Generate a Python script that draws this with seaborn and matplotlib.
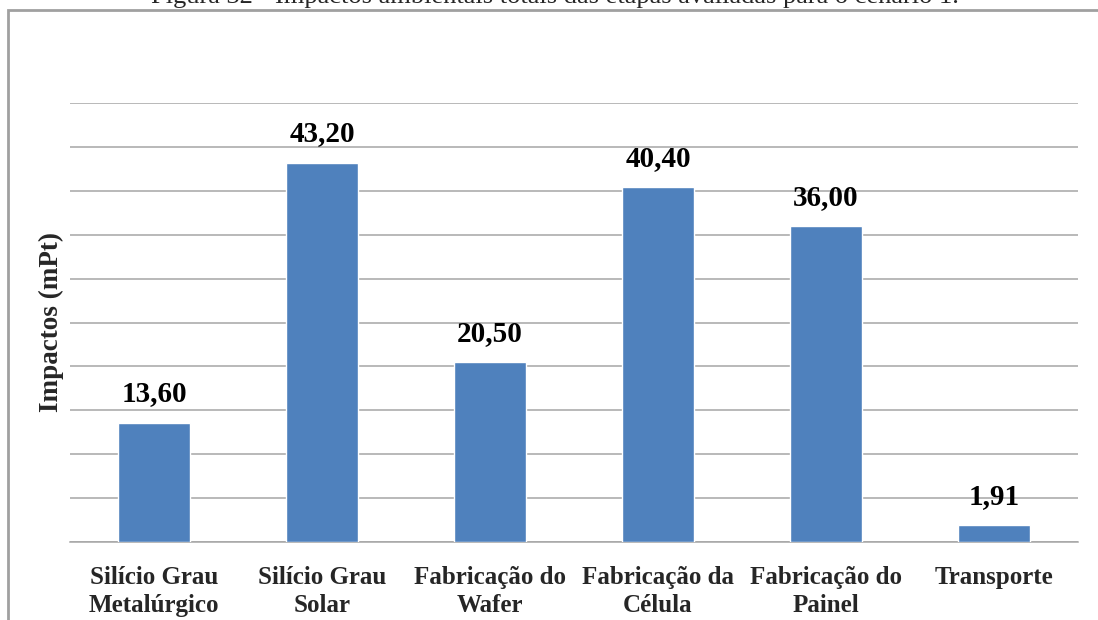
import matplotlib
matplotlib.use('Agg')
import matplotlib.pyplot as plt
import seaborn as sns
import pandas as pd
from matplotlib.ticker import FixedLocator, MultipleLocator
from matplotlib.patches import Rectangle

# dados
etapas = ['Silício Grau\nMetalúrgico', 'Silício Grau\nSolar', 'Fabricação do\nWafer',
          'Fabricação da\nCélula', 'Fabricação do\nPainel', 'Transporte']
impactos = [13.60, 43.20, 20.50, 40.40, 36.00, 1.91]

df = pd.DataFrame({'Etapa': etapas, 'Impacto': impactos})

sns.set_theme(style='white')
plt.rcParams['font.family'] = ['Liberation Serif', 'DejaVu Serif']

fig = plt.figure(figsize=(10.98, 6.2), dpi=100)
ax = fig.add_axes([70 / 1098, 1 - 542 / 620, 1008 / 1098, 439 / 620])

sns.barplot(data=df, x='Etapa', y='Impacto', color='#4F81BD', saturation=1,
            width=0.43, ax=ax, zorder=3)

ax.set_ylim(0, 50)
ax.set_xlim(-0.5, 5.5)
ax.yaxis.set_major_locator(MultipleLocator(5))
ax.grid(axis='y', color='#A6A6A6', linewidth=1.1, zorder=0)
ax.set_axisbelow(True)
ax.tick_params(axis='y', left=False, labelleft=False)

# ticks entre as categorias
ax.xaxis.set_minor_locator(FixedLocator([i - 0.5 for i in range(len(etapas) + 1)]))
ax.tick_params(axis='x', which='major', length=0, pad=17)
ax.tick_params(axis='x', which='minor', length=6, width=1, color='#A6A6A6', direction='out')
for lbl in ax.get_xticklabels():
    lbl.set_fontsize(18)
    lbl.set_fontweight('bold')
    lbl.set_linespacing(1.3)

for s in ['top', 'right', 'left']:
    ax.spines[s].set_visible(False)
ax.spines['bottom'].set_color('#A6A6A6')
ax.spines['bottom'].set_linewidth(1.1)

# rótulos de valor
for i, v in enumerate(impactos):
    ax.annotate(f'{v:.2f}'.replace('.', ','), (i, v), xytext=(0, 11),
                textcoords='offset points', ha='center', va='bottom',
                fontsize=21, fontweight='bold', color='black')

ax.set_xlabel('')
ax.set_ylabel('Impactos (mPt)', fontsize=19.5, fontweight='bold', labelpad=4)

# moldura e título cortado
fig.patches.append(Rectangle((8 / 1098, -0.1), 1.2, 1 - 10 / 620 + 0.1,
                             transform=fig.transFigure, fill=False,
                             edgecolor='#A0A0A0', linewidth=2))
fig.text(555 / 1098, 1 - 3 / 620, 'Figura 32 - Impactos ambientais totais das etapas avaliadas para o cenário 1.',
         ha='center', va='baseline', fontsize=19)

fig.savefig('out.png', dpi=100)
